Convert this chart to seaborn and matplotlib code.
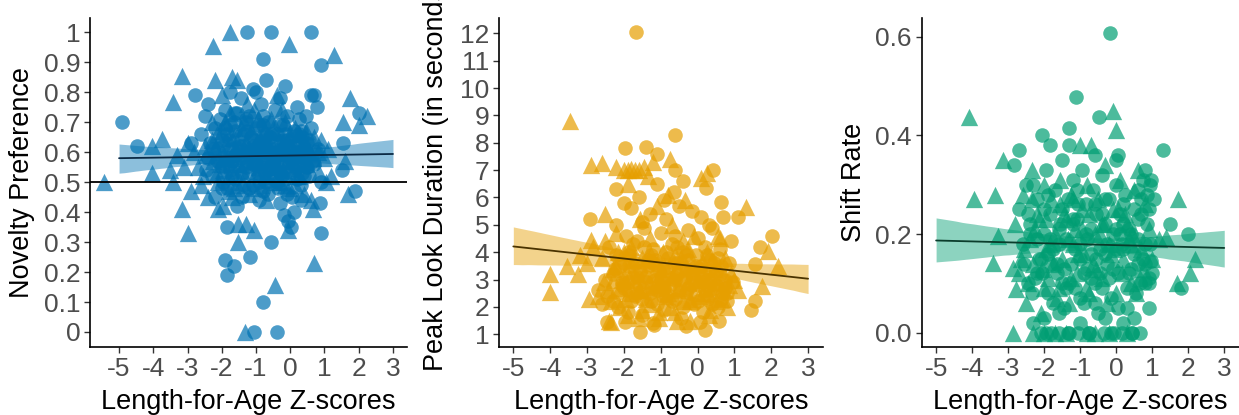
import pandas as pd
import matplotlib
import matplotlib.pyplot as plt
import seaborn as sns

matplotlib.use("Agg")

# --- Novelty Preference (panel 1) ---
nov_circ_x = [-4.92, -4.49, -1.27, -0.57, 0.61, -0.81, 0.89, -0.70, -0.15, -1.10, -2.78, 0.68,
              2.00, 1.55, 1.50, 1.88, -2.90, 0.78, -1.86, -1.90, -1.65, -1.86, -1.18, -0.55,
              -0.81, -1.06, -0.40, -0.18, 0.03, 0.89, 0.87, -0.07, 0.74,
              -2.6, -2.5, -2.4, -2.3, -2.2, -2.1, -2.0, -1.9, -1.85, -1.8, -1.7, -1.65, -1.6,
              -1.5, -1.45, -1.4, -1.35, -1.3, -1.2, -1.15, -1.1, -1.05, -1.0, -0.95, -0.9,
              -0.85, -0.8, -0.75, -0.7, -0.65, -0.6, -0.55, -0.5, -0.45, -0.4, -0.35, -0.3,
              -0.25, -0.2, -0.15, -0.1, -0.05, 0.0, 0.05, 0.1, 0.15, 0.2, 0.25, 0.3, 0.35,
              0.4, 0.5, 0.55, 0.6, 0.7, 0.8, 0.9, -2.2, -1.95, -1.55, -1.25, -0.9, -0.6,
              -0.3, 0.1, 0.3, -1.75, -1.0, -0.3, 0.2, 0.6, -2.4, -0.1, -1.6, -0.8, 0.45]
nov_circ_y = [0.70, 0.62, 1.00, 1.00, 1.00, 0.91, 0.89, 0.84, 0.82, 0.81, 0.79, 0.79,
              0.73, 0.63, 0.54, 0.47, 0.63, 0.75, 0.35, 0.24, 0.22, 0.19, 0.25, 0.30,
              0.10, 0.00, 0.00, 0.39, 0.35, 0.33, 0.43, 0.37, 0.60,
              0.66, 0.72, 0.58, 0.52, 0.68, 0.61, 0.55, 0.74, 0.48, 0.64, 0.57, 0.70, 0.51,
              0.62, 0.78, 0.45, 0.66, 0.55, 0.72, 0.59, 0.49, 0.64, 0.68, 0.53, 0.60,
              0.76, 0.47, 0.63, 0.57, 0.70, 0.52, 0.66, 0.61, 0.74, 0.55, 0.48, 0.69,
              0.59, 0.64, 0.51, 0.72, 0.57, 0.62, 0.45, 0.67, 0.54, 0.60, 0.71, 0.49, 0.65,
              0.58, 0.63, 0.52, 0.68, 0.56, 0.61, 0.50, 0.45, 0.62, 0.42, 0.60, 0.44, 0.58,
              0.43, 0.40, 0.44, 0.80, 0.80, 0.78, 0.75, 0.79, 0.76, 0.46, 0.67, 0.69, 0.72]
nov_circ_core_x = [-2.35, -2.15, -2.05, -1.95, -1.85, -1.75, -1.7, -1.55, -1.45, -1.35,
                   -1.25, -1.2, -1.1, -1.0, -0.9, -0.85, -0.75, -0.7, -0.6, -0.5,
                   -0.45, -0.35, -0.25, -0.15, -0.05, 0.05, 0.15, 0.25, 0.35, 0.45,
                   0.55, 0.65, -2.45, -2.0, -1.6, -1.3, -0.95, -0.65, -0.4, -0.2,
                   0.0, 0.2, 0.4, -1.8, -1.15, -0.55, 0.1, -2.25, -1.4, -0.8,
                   -2.1, -1.9, -1.7, -1.5, -1.3, -1.1, -0.9, -0.7, -0.5, -0.3,
                   -0.1, 0.1, 0.3, 0.5, -2.0, -1.8, -1.6, -1.4, -1.2, -1.0,
                   -0.8, -0.6, -0.4, -0.2, 0.0, 0.2, 0.4, -1.75, -1.25, -0.75,
                   -0.25, 0.25]
nov_circ_core_y = [0.63, 0.57, 0.71, 0.50, 0.66, 0.54, 0.61, 0.73, 0.58, 0.49,
                   0.67, 0.53, 0.62, 0.57, 0.69, 0.55, 0.60, 0.50, 0.65, 0.56,
                   0.63, 0.59, 0.52, 0.66, 0.61, 0.55, 0.63, 0.58, 0.53, 0.60,
                   0.64, 0.57, 0.54, 0.48, 0.59, 0.70, 0.62, 0.46, 0.66, 0.57,
                   0.53, 0.63, 0.52, 0.56, 0.65, 0.60, 0.58, 0.61, 0.53, 0.64,
                   0.57, 0.68, 0.52, 0.60, 0.71, 0.56, 0.50, 0.66, 0.58, 0.53,
                   0.64, 0.59, 0.67, 0.55, 0.64, 0.58, 0.73, 0.62, 0.48, 0.60,
                   0.72, 0.55, 0.50, 0.69, 0.58, 0.51, 0.61, 0.69, 0.57, 0.53,
                   0.61, 0.66]
nov_tri_x = [-5.45, -1.75, -2.25, -0.05, 1.29, -3.17, -2.20, -1.70, -3.41, 1.74, 2.23, 1.55,
             2.00, -3.75, -4.03, -4.05, -3.41, -3.17, -2.98, -2.10, -1.52, -1.52, -1.30, -1.07,
             -0.45, -1.32, -0.08, 0.67, 0.69, 1.60, 1.69, 1.05, -3.10,
             -2.7, -2.6, -2.5, -2.4, -2.3, -2.25, -2.1, -2.0, -1.95, -1.9, -1.8, -1.75, -1.7,
             -1.6, -1.5, -1.45, -1.4, -1.3, -1.25, -1.2, -1.1, -1.0, -0.95, -0.9, -0.85,
             -0.8, -0.7, -0.65, -0.55, -0.5, -0.45, -0.4, -0.3, -0.2, -0.15, -0.05, 0.0,
             0.1, 0.2, 0.3, 0.4, 0.5, 0.6, 0.7, 0.85, 1.0, -2.8, -3.0, -3.3, -3.5, -2.9,
             1.1, 1.2, -1.55, -1.65, -0.25, -2.0]
nov_tri_y = [0.50, 1.00, 0.955, 0.96, 0.926, 0.854, 0.84, 0.85, 0.768, 0.78, 0.72, 0.70,
             0.69, 0.645, 0.62, 0.53, 0.50, 0.41, 0.33, 0.41, 0.36, 0.30, 0.36, 0.34,
             0.156, 0.00, 0.34, 0.41, 0.23, 0.57, 0.46, 0.50, 0.55,
             0.55, 0.49, 0.62, 0.45, 0.70, 0.57, 0.50, 0.67, 0.42, 0.58, 0.52, 0.73, 0.45,
             0.61, 0.56, 0.68, 0.50, 0.63, 0.76, 0.46, 0.57, 0.53, 0.71, 0.65, 0.49,
             0.58, 0.44, 0.62, 0.55, 0.68, 0.50, 0.79, 0.60, 0.54, 0.70, 0.48, 0.66,
             0.59, 0.52, 0.62, 0.46, 0.56, 0.44, 0.65, 0.53, 0.58, 0.60, 0.63, 0.59, 0.54, 0.47,
             0.61, 0.52, 0.84, 0.48, 0.74, 0.79]
nov_tri_core_x = [-2.45, -2.3, -2.15, -2.0, -1.9, -1.8, -1.65, -1.5, -1.35, -1.2,
                  -1.05, -0.9, -0.75, -0.6, -0.45, -0.35, -0.2, -0.1, 0.05, 0.15,
                  0.25, 0.35, 0.5, 0.65, 0.8, -2.55, -2.2, -1.85, -1.45, -1.15,
                  -0.8, -0.5, -0.15, 0.2, 0.55, -2.05, -1.0, -0.3, 0.45, 0.9,
                  -2.15, -1.95, -1.75, -1.55, -1.35, -1.15, -0.95, -0.75, -0.55, -0.35,
                  -0.15, 0.05, 0.25, 0.45, -1.65, -1.05, -0.45, 0.15]
nov_tri_core_y = [0.59, 0.64, 0.53, 0.60, 0.70, 0.47, 0.56, 0.65, 0.58, 0.61,
                  0.48, 0.55, 0.67, 0.51, 0.60, 0.55, 0.63, 0.57, 0.61, 0.49,
                  0.66, 0.56, 0.62, 0.58, 0.60, 0.52, 0.61, 0.58, 0.54, 0.67,
                  0.63, 0.59, 0.61, 0.56, 0.60, 0.56, 0.62, 0.50, 0.57, 0.64,
                  0.66, 0.54, 0.63, 0.49, 0.70, 0.60, 0.57, 0.52, 0.71, 0.64,
                  0.49, 0.57, 0.52, 0.67, 0.65, 0.74, 0.55, 0.68]

# --- Peak Look Duration (panel 2) ---
pld_circ_x = [-1.68, -0.62, -1.97, -1.40, -1.10, 0.42, -0.62, -2.20, 0.22, 0.65, 0.68, 1.10,
              -2.92, 2.03, 1.70, 1.55, 1.57, 1.44, -2.70, -2.45, -1.57, -1.18, -1.97, 0.21,
              0.58, 0.08,
              -2.5, -2.4, -2.3, -2.2, -2.1, -2.0, -1.95, -1.9, -1.85, -1.8, -1.75, -1.7,
              -1.65, -1.6, -1.55, -1.5, -1.45, -1.4, -1.35, -1.3, -1.25, -1.2, -1.15, -1.1,
              -1.05, -1.0, -0.95, -0.9, -0.85, -0.8, -0.75, -0.7, -0.65, -0.6, -0.55, -0.5,
              -0.45, -0.4, -0.35, -0.3, -0.25, -0.2, -0.15, -0.1, -0.05, 0.0, 0.05, 0.1,
              0.15, 0.2, 0.25, 0.3, 0.35, 0.4, 0.45, 0.5, 0.55, 0.6, 0.7, 0.8, 0.85, 0.9,
              0.95, -2.6, -2.0, -1.5, -0.9, -0.4, 0.1, -1.2, -0.3, 0.3, -1.7, -0.6]
pld_circ_y = [12.05, 8.28, 7.80, 7.85, 7.60, 7.00, 7.00, 6.30, 6.35, 5.85, 5.27, 5.27,
              5.20, 4.60, 4.20, 3.55, 2.20, 1.90, 2.60, 1.46, 1.10, 1.35, 1.45, 1.15,
              1.50, 1.45,
              3.0, 4.2, 2.2, 5.0, 3.5, 2.7, 4.6, 1.8, 3.9, 5.6, 3.1, 2.4,
              4.4, 6.0, 3.3, 1.7, 4.9, 2.9, 3.7, 5.4, 2.2, 4.1, 3.0, 6.5,
              2.6, 4.7, 3.4, 1.9, 5.2, 3.8, 2.8, 4.3, 6.2, 2.3, 3.6, 5.7,
              1.6, 4.0, 3.1, 2.5, 4.8, 3.3, 5.5, 2.1, 3.9, 4.5, 2.8, 3.5,
              1.8, 4.2, 3.0, 2.4, 3.7, 4.9, 2.7, 3.3, 2.0, 4.1, 3.0, 2.5, 3.6, 4.4,
              2.9, 2.1, 5.8, 5.1, 5.9, 6.6, 5.3, 1.4, 1.3, 5.0, 3.6, 4.6]
pld_circ_core_x = [-2.45, -2.3, -2.15, -2.0, -1.9, -1.8, -1.7, -1.6, -1.5, -1.4,
                   -1.3, -1.2, -1.1, -1.0, -0.9, -0.8, -0.7, -0.6, -0.5, -0.4,
                   -0.3, -0.2, -0.1, 0.0, 0.1, 0.2, 0.3, 0.4, 0.5, 0.6,
                   0.7, 0.8, -2.2, -1.85, -1.45, -1.15, -0.85, -0.55, -0.25, 0.05,
                   0.35, 0.65, -2.05, -1.65, -1.25, -0.95, -0.65, -0.15, 0.25, 0.75,
                   -2.25, -2.05, -1.85, -1.65, -1.45, -1.25, -1.05, -0.85, -0.65, -0.45,
                   -0.25, -0.05, 0.15, 0.35, 0.55, 0.75, -2.15, -1.75, -1.35, -0.95,
                   -0.55, -0.15, 0.25, 0.65, -1.9, -1.1, -0.3, 0.45]
pld_circ_core_y = [2.4, 3.2, 2.0, 3.6, 2.6, 2.2, 3.3, 2.8, 2.3, 3.1,
                   2.5, 3.6, 2.1, 3.0, 2.7, 3.3, 2.2, 3.0, 2.6, 2.0,
                   3.4, 2.5, 2.9, 2.2, 3.1, 2.6, 3.3, 2.1, 2.8, 3.2,
                   2.5, 2.2, 3.9, 3.5, 4.2, 3.7, 4.0, 3.2, 3.7, 3.4,
                   2.9, 3.5, 2.9, 2.5, 2.7, 2.4, 3.1, 2.8, 2.3, 3.0,
                   3.4, 2.8, 4.0, 3.1, 2.6, 3.9, 3.3, 2.4, 3.6, 3.0,
                   2.7, 3.5, 2.9, 2.6, 3.8, 2.7, 2.5, 4.3, 3.5, 2.9,
                   4.2, 3.2, 3.9, 2.3, 2.9, 2.6, 3.9, 3.6]
pld_tri_x = [-3.45, -2.90, -2.60, -2.20, -2.00, -1.80, -1.60, -0.75, -1.20, 0.25, 1.32, -2.50,
             1.90, 2.17, 1.75, -4.00, -4.00, -3.55, -3.25, -2.95, -2.90, -2.35,
             -2.7, -2.6, -2.5, -2.4, -2.3, -2.2, -2.1, -2.0, -1.9, -1.85, -1.8, -1.7, -1.6,
             -1.55, -1.5, -1.4, -1.35, -1.3, -1.2, -1.1, -1.05, -1.0, -0.95, -0.9, -0.8,
             -0.75, -0.7, -0.6, -0.55, -0.5, -0.4, -0.35, -0.3, -0.2, -0.1, 0.0, 0.1, 0.15,
             0.25, 0.35, 0.45, 0.55, 0.65, 0.75, 0.85, 1.0, 1.1, -3.0, -2.85, -3.2, -1.7,
             -1.45, -1.9, 0.6]
pld_tri_y = [8.80, 7.20, 7.25, 7.10, 7.00, 7.05, 7.00, 7.40, 7.30, 6.90, 5.65, 5.40,
             4.05, 3.50, 2.75, 3.20, 2.55, 3.50, 3.20, 2.30, 4.45, 1.45,
             2.4, 3.8, 4.4, 2.6, 3.4, 4.7, 2.0, 3.1, 6.5, 2.5, 4.2, 3.0, 1.6,
             5.2, 3.8, 2.3, 6.8, 4.5, 3.2, 5.7, 1.8, 2.9, 4.0, 3.5, 6.1,
             2.0, 5.0, 3.9, 1.5, 2.7, 4.4, 5.9, 3.5, 2.2, 4.6, 3.0, 6.7, 2.5,
             4.0, 1.9, 3.4, 4.6, 2.3, 3.8, 2.8, 3.0, 2.6, 3.6, 4.2, 3.9, 7.0,
             7.1, 7.0, 4.5]
pld_tri_core_x = [-2.55, -2.35, -2.25, -2.1, -1.95, -1.75, -1.6, -1.45, -1.3, -1.15,
                  -1.0, -0.85, -0.7, -0.55, -0.4, -0.25, -0.1, 0.05, 0.2, 0.35,
                  0.5, 0.7, 0.9, -2.4, -1.9, -1.5, -1.05, -0.6, -0.2, 0.3,
                  -2.15, -1.25, -0.45, 0.15, 0.8,
                  -2.3, -1.95, -1.6, -1.25, -0.9, -0.55, -0.2, 0.15, 0.5, -2.0,
                  -1.4, -0.8, -0.25, 0.4]
pld_tri_core_y = [2.9, 2.2, 3.5, 2.7, 2.3, 3.7, 2.6, 3.2, 2.1, 2.8,
                  3.4, 2.4, 3.1, 2.6, 2.2, 2.9, 3.3, 2.4, 2.7, 3.1,
                  2.2, 2.6, 3.2, 1.5, 1.7, 1.9, 1.6, 1.8, 1.5, 1.7,
                  4.0, 3.9, 3.8, 3.6, 2.0,
                  3.0, 3.3, 2.6, 3.6, 2.9, 3.4, 2.3, 3.3, 2.9, 4.0,
                  3.7, 2.5, 4.1, 3.7]

# --- Shift Rate (panel 3) ---
shr_circ_x = [-0.17, -1.12, -0.47, -1.30, 1.31, 1.50, 2.00, 1.80, -2.85, -2.70, -2.05, -1.85,
              0.05, 0.97,
              -2.7, -2.6, -2.5, -2.45, -2.4, -2.3, -2.2, -2.15, -2.1, -2.0, -1.95, -1.9,
              -1.85, -1.8, -1.75, -1.7, -1.65, -1.6, -1.55, -1.5, -1.45, -1.4, -1.35, -1.3,
              -1.25, -1.2, -1.15, -1.1, -1.05, -1.0, -0.95, -0.9, -0.85, -0.8, -0.75, -0.7,
              -0.65, -0.6, -0.55, -0.5, -0.45, -0.4, -0.35, -0.3, -0.25, -0.2, -0.15, -0.1,
              -0.05, 0.0, 0.05, 0.1, 0.15, 0.2, 0.25, 0.3, 0.35, 0.4, 0.45, 0.5, 0.55, 0.6,
              0.65, 0.7, 0.75, 0.8, 0.85, 0.9, 0.95, 1.0, -2.0, -1.6, -1.0, -0.3, 0.2,
              -1.3, -0.6, 0.0]
shr_circ_y = [0.608, 0.478, 0.437, 0.415, 0.370, 0.220, 0.200, 0.090, 0.340, 0.370, 0.400, 0.380,
              0.360, 0.310,
              0.25, 0.18, 0.30, 0.10, 0.22, 0.02, 0.27, 0.15, 0.00, 0.20, 0.33, 0.08,
              0.24, 0.00, 0.17, 0.29, 0.12, 0.00, 0.22, 0.35, 0.05, 0.19, 0.27, 0.00,
              0.14, 0.31, 0.09, 0.23, 0.00, 0.18, 0.33, 0.06, 0.26, 0.13, 0.00, 0.21,
              0.29, 0.10, 0.24, 0.04, 0.17, 0.32, 0.00, 0.22, 0.14, 0.27, 0.07, 0.20,
              0.00, 0.30, 0.12, 0.24, 0.00, 0.17, 0.28, 0.05, 0.21, 0.13, 0.00, 0.25, 0.08, 0.19,
              0.00, 0.27, 0.15, 0.10, 0.22, 0.05, 0.18, 0.12, 0.03, 0.04, 0.02, 0.03, 0.02,
              0.38, 0.36, 0.35]
shr_circ_core_x = [-2.55, -2.35, -2.2, -2.05, -1.9, -1.75, -1.6, -1.45, -1.3, -1.15,
                   -1.0, -0.85, -0.7, -0.55, -0.4, -0.25, -0.1, 0.05, 0.2, 0.35,
                   0.5, 0.65, 0.8, -2.45, -2.1, -1.85, -1.5, -1.2, -0.9, -0.6,
                   -0.3, 0.0, 0.3, 0.6, 0.9, -1.95, -1.35, -0.75, -0.15, 0.45,
                   -2.25, -1.65, -1.05, -0.45, 0.15,
                   -2.4, -2.2, -2.0, -1.8, -1.6, -1.4, -1.2, -1.0, -0.8, -0.6,
                   -0.4, -0.2, 0.0, 0.2, 0.4, 0.6, 0.8, -2.3, -1.9, -1.5,
                   -1.1, -0.7, -0.3, 0.1, 0.5, 0.97, 0.90,
                   0.95, 0.85, 0.75, 0.90, 0.70, 1.05, 0.60, 0.80]
shr_circ_core_y = [0.14, 0.08, 0.19, 0.12, 0.16, 0.06, 0.21, 0.13, 0.10, 0.17,
                   0.07, 0.20, 0.11, 0.15, 0.09, 0.18, 0.13, 0.05, 0.22, 0.12,
                   0.16, 0.10, 0.14, 0.24, 0.15, 0.19, 0.25, 0.22, 0.12, 0.26,
                   0.16, 0.21, 0.09, 0.23, 0.11, 0.0, 0.0, 0.0, 0.0, 0.0,
                   0.11, 0.14, 0.26, 0.12, 0.18,
                   0.20, 0.12, 0.25, 0.14, 0.18, 0.09, 0.23, 0.15, 0.19, 0.06,
                   0.24, 0.11, 0.17, 0.26, 0.20, 0.14, 0.18, 0.30, 0.28, 0.10,
                   0.29, 0.16, 0.27, 0.20, 0.03, 0.146, 0.10,
                   0.30, 0.28, 0.31, 0.25, 0.24, 0.27, 0.29, 0.33]
shr_tri_x = [-0.10, -4.08, 0.00, -3.95, -3.37, -3.15, 1.72, 2.20, 2.05, 1.70, -3.29, -3.43,
             -2.87, -2.87, -2.78, 1.38,
             -2.8, -2.7, -2.6, -2.5, -2.4, -2.35, -2.3, -2.2, -2.1, -2.0, -1.95, -1.9, -1.8,
             -1.7, -1.6, -1.55, -1.5, -1.4, -1.3, -1.25, -1.2, -1.1, -1.0, -0.95, -0.9,
             -0.8, -0.75, -0.7, -0.6, -0.5, -0.4, -0.3, -0.2, -0.1, 0.0, 0.1, 0.2, 0.3,
             0.4, 0.5, 0.6, 0.7, 0.8, 0.9, 1.0, -2.3, -1.7, -0.6, 0.3, 1.2]
shr_tri_y = [0.450, 0.437, 0.410, 0.270, 0.280, 0.350, 0.270, 0.150, 0.120, 0.100, 0.197, 0.142,
             0.132, 0.000, 0.089, 0.193,
             0.22, 0.12, 0.28, 0.06, 0.19, 0.33, 0.14, 0.24, 0.04, 0.30, 0.17, 0.11, 0.27,
             0.20, 0.09, 0.31, 0.15, 0.23, 0.06, 0.28, 0.18, 0.12, 0.38, 0.25, 0.16,
             0.30, 0.08, 0.38, 0.20, 0.27, 0.11, 0.34, 0.18, 0.25, 0.08, 0.31, 0.15, 0.22,
             0.10, 0.29, 0.33, 0.17, 0.26, 0.21, 0.15, 0.00, 0.00, 0.00, 0.00, 0.19]
shr_tri_core_x = [-2.65, -2.45, -2.25, -2.05, -1.85, -1.65, -1.45, -1.25, -1.05, -0.85,
                  -0.65, -0.45, -0.25, -0.05, 0.15, 0.35, 0.55, 0.75, -2.35, -1.95,
                  -1.55, -1.15, -0.75, -0.35, 0.05, 0.45, -2.0, -1.4, -0.8, -0.2,
                  -2.55, -2.15, -1.75, -1.35, -0.95, -0.55, -0.15, 0.25, 0.65, -2.0,
                  -1.2, -0.4, 0.4]
shr_tri_core_y = [0.15, 0.10, 0.21, 0.13, 0.18, 0.07, 0.24, 0.11, 0.16, 0.09,
                  0.14, 0.20, 0.06, 0.17, 0.12, 0.19, 0.08, 0.13, 0.27, 0.23,
                  0.26, 0.21, 0.24, 0.22, 0.25, 0.20, 0.0, 0.0, 0.0, 0.0,
                  0.17, 0.23, 0.14, 0.19, 0.21, 0.13, 0.16, 0.24, 0.11, 0.09,
                  0.27, 0.22, 0.18]

x_ticks = [-5, -4, -3, -2, -1, 0, 1, 2, 3]
nov_ticks = [0, 0.1, 0.2, 0.3, 0.4, 0.5, 0.6, 0.7, 0.8, 0.9, 1]
nov_tick_labels = ["0", "0.1", "0.2", "0.3", "0.4", "0.5", "0.6", "0.7", "0.8", "0.9", "1"]
pld_ticks = [1, 2, 3, 4, 5, 6, 7, 8, 9, 10, 11, 12]
shr_ticks = [0.0, 0.2, 0.4, 0.6]
shr_tick_labels = ["0.0", "0.2", "0.4", "0.6"]


def make_df(cx, cy, tx, ty):
    return pd.DataFrame({
        "laz": cx + tx,
        "val": cy + ty,
        "grp": ["circle"] * len(cx) + ["triangle"] * len(tx),
    })


def draw_panel(ax, df, color, line_color, ylabel, xlim, ylim, yticks, yticklabels):
    circ = df[df["grp"] == "circle"]
    tri = df[df["grp"] == "triangle"]
    sns.scatterplot(data=circ, x="laz", y="val", marker="o", color=color,
                    alpha=0.7, s=110, linewidth=0, ax=ax)
    sns.scatterplot(data=tri, x="laz", y="val", marker="^", color=color,
                    alpha=0.7, s=155, linewidth=0, ax=ax)
    # regression line over the fixed -5..3 range
    ax.set_xlim(-5, 3)
    sns.regplot(data=df, x="laz", y="val", scatter=False, truncate=False, ci=95,
                n_boot=1000, seed=3, color=color, line_kws={"linewidth": 1.3}, ax=ax)
    ax.lines[-1].set_color(line_color)
    band = ax.collections[-1]
    band.set_alpha(0.45)
    band.set_linewidth(0)

    ax.set_xlim(*xlim)
    ax.set_ylim(*ylim)
    ax.set_xticks(x_ticks)
    ax.set_xticklabels([str(t) for t in x_ticks])
    ax.set_yticks(yticks)
    ax.set_yticklabels(yticklabels)
    ax.set_xlabel("Length-for-Age Z-scores", fontsize=19.5, color="black", labelpad=6)
    ax.set_ylabel(ylabel, fontsize=19.5, color="black", labelpad=6)
    ax.tick_params(length=4, width=1, color="#333333", labelsize=19,
                   labelcolor="#4d4d4d", pad=3)
    sns.despine(ax=ax)
    for side in ["left", "bottom"]:
        ax.spines[side].set_linewidth(1.2)
        ax.spines[side].set_color("black")


sns.set_style("ticks")
plt.rcParams["font.family"] = ["Liberation Sans", "DejaVu Sans"]

fig = plt.figure(figsize=(12.39, 4.15), dpi=100)
ax1 = fig.add_axes([0.0726, 0.1639, 0.2559, 0.7928])
ax2 = fig.add_axes([0.4027, 0.1639, 0.2617, 0.7928])
ax3 = fig.add_axes([0.7439, 0.1639, 0.2561, 0.7928])

nov_df = make_df(nov_circ_x + nov_circ_core_x, nov_circ_y + nov_circ_core_y,
                 nov_tri_x + nov_tri_core_x, nov_tri_y + nov_tri_core_y)
pld_df = make_df(pld_circ_x + pld_circ_core_x, pld_circ_y + pld_circ_core_y,
                 pld_tri_x + pld_tri_core_x, pld_tri_y + pld_tri_core_y)
shr_df = make_df(shr_circ_x + shr_circ_core_x, shr_circ_y + shr_circ_core_y,
                 shr_tri_x + shr_tri_core_x, shr_tri_y + shr_tri_core_y)

draw_panel(ax1, nov_df, "#0072B2", "#0b2a45", "Novelty Preference",
           (-5.85, 3.41), (-0.05, 1.048), nov_ticks, nov_tick_labels)
ax1.axhline(0.5, color="black", linewidth=1.3)

draw_panel(ax2, pld_df, "#E69F00", "#4a3300", "Peak Look Duration (in seconds)",
           (-5.39, 3.41), (0.535, 12.56), pld_ticks, [str(t) for t in pld_ticks])
ax2.yaxis.set_label_coords(-0.155, 0.525)

draw_panel(ax3, shr_df, "#009E73", "#0b3d2c", "Shift Rate",
           (-5.40, 3.41), (-0.029, 0.638), shr_ticks, shr_tick_labels)

fig.savefig("out.png", dpi=100)
plt.close(fig)
